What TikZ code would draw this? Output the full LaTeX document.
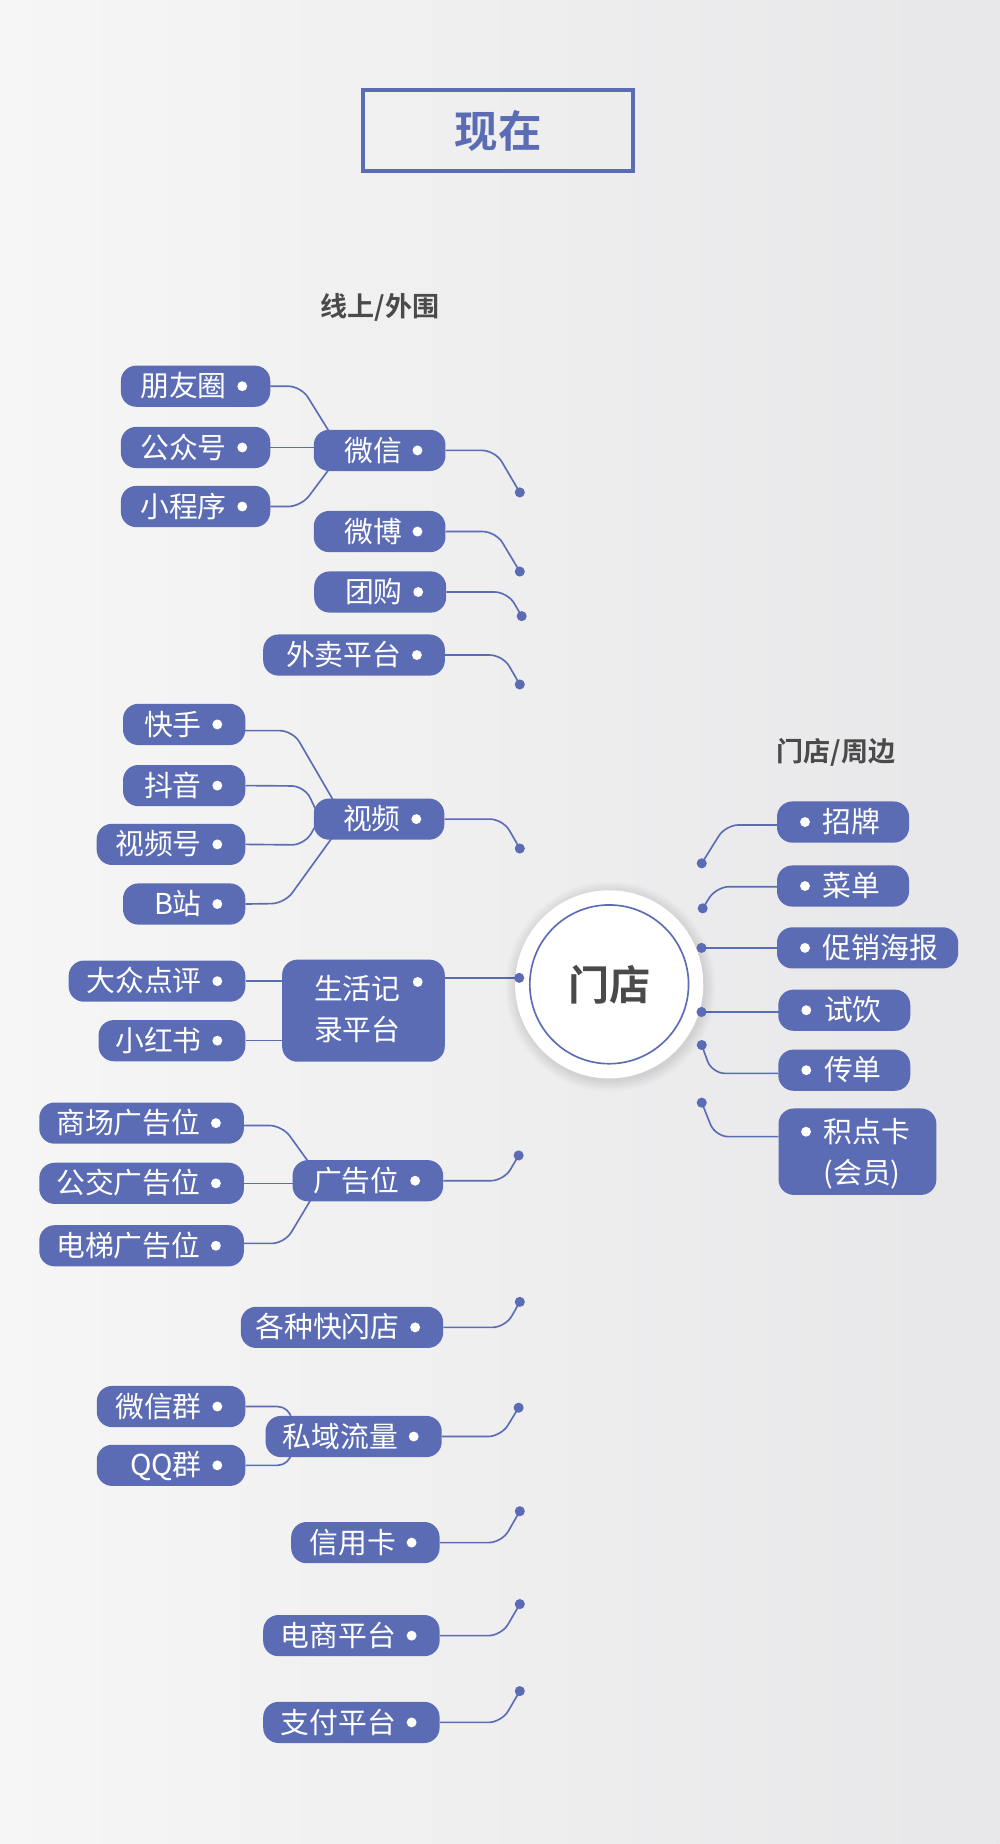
\documentclass[tikz,border=0pt]{standalone}
\usepackage{fontspec}
\setmainfont{Noto Sans CJK SC}[BoldFont={Noto Sans CJK SC Bold}]
\usetikzlibrary{calc}
\setlength{\parindent}{0pt}
\definecolor{nb}{RGB}{91,108,181}
\definecolor{dg}{RGB}{74,74,74}
\definecolor{bgl}{RGB}{246,246,246}
\definecolor{bgr}{RGB}{231,231,233}
\pgfdeclarelayer{bg}
\pgfsetlayers{bg,main}
\newcommand\myfs[2]{\fontsize{#1pt}{#2pt}\selectfont}
\tikzset{
  box/.style={fill=nb, text=white, rounded corners=13pt, minimum height=35pt,
    inner xsep=0pt, inner ysep=0pt, text height=20pt, text depth=2pt, font=\myfs{24.5}{28}},
  lbox/.style={box, align=right, anchor=east},
  rbox/.style={box, align=left, anchor=west},
  btxt/.style={text=white, font=\myfs{24.5}{28}, inner sep=0pt, text height=20pt, text depth=2pt},
  conn/.style={draw=nb, line width=1.4pt, rounded corners=11pt},
  lbl/.style={text=dg, font=\bfseries\myfs{23}{23}, inner sep=0pt},
}
\newcommand\LB[5]{\node[lbox, text width=#4pt] (#1) at (#2,#3) {#5\hspace*{37pt}};
  \fill[white] ($(#1.east)+(-24,0)$) circle (4.2pt);}
\newcommand\RB[5]{\node[rbox, text width=#4pt] (#1) at (#2,#3) {\hspace*{39pt}#5};
  \fill[white] ($(#1.west)+(24,0)$) circle (4.2pt);}
\begin{document}
\begin{tikzpicture}[x=1pt,y=-1pt]
\useasboundingbox (0,0) rectangle (850,1568);
\begin{pgfonlayer}{bg}
  \shade[left color=bgl, right color=bgr] (0,0) rectangle (850,1568);
\end{pgfonlayer}

% title
\node[draw=nb, line width=3.5pt, minimum width=229.5pt, minimum height=68.5pt,
  text=nb, font=\bfseries\myfs{37}{37}] (title) at (423.5,111) {现在};
\node[lbl] (lab1) at (323,261) {线上/外围};
\node[lbl] (lab2) at (711,640) {门店/周边};

% centre
\foreach \i in {1,...,9} {\fill[black, opacity=0.011] (519,839) circle ({79.5pt+\i*1.1pt});}
\node[circle, fill=white, minimum size=160pt, inner sep=0pt] (md) at (518,837) {};
\draw[nb, line width=1.4pt] (md.center) circle (67.5pt);
\node[text=dg, font=\bfseries\myfs{35}{35}, inner sep=0pt] (mdt) at (md.center) {门店};

% level 2 (left)
\LB{wx}{379}{383}{112}{微信}
\LB{wb}{379}{452}{112}{微博}
\LB{tg}{379.6}{503.4}{112.2}{团购}
\LB{wm}{378.5}{557}{154.5}{外卖平台}
\LB{sp}{378}{696.5}{111}{视频}
\LB{ggw}{377}{1004}{128}{广告位}
\LB{kfd}{377}{1128.7}{172}{各种快闪店}
\LB{sy}{375.8}{1221.5}{149.8}{私域流量}
\LB{xyk}{374}{1311.7}{126.2}{信用卡}
\LB{ds}{374}{1390.8}{150}{电商平台}
\LB{zf}{374}{1464.6}{150}{支付平台}
\node[box, minimum width=138.3pt, minimum height=86.8pt, anchor=west] (shjl) at (239.7,859.4) {};
\node[btxt, anchor=west] (shjl1) at (266.8,841) {生活记};
\node[btxt, anchor=west] (shjl2) at (266.8,876) {录平台};
\fill[white] (355.2,835) circle (4.2pt);

% leaves (left)
\LB{pyq}{230}{328.4}{127}{朋友圈}
\LB{gzh}{230}{380.5}{127}{公众号}
\LB{xcx}{230}{430.7}{127}{小程序}
\LB{ks}{208.8}{616}{104}{快手}
\LB{dy}{208.8}{668}{104}{抖音}
\LB{sph}{208.8}{718}{126.4}{视频号}
\LB{bz}{208.8}{768.7}{104}{B站}
\LB{dz}{208.8}{834.3}{150.2}{大众点评}
\LB{xhs}{208.8}{884.9}{124.8}{小红书}
\LB{sc}{207.6}{955}{174}{商场广告位}
\LB{gj}{207.6}{1006.2}{174}{公交广告位}
\LB{dt}{207.6}{1059.3}{174}{电梯广告位}
\LB{wxq}{208.8}{1196}{126.3}{微信群}
\LB{qq}{208.8}{1246}{126.3}{QQ群}

% right
\RB{zp}{660.5}{699}{112.3}{招牌}
\RB{cd}{660.5}{753.4}{112.3}{菜单}
\RB{cx}{660.5}{806}{154}{促销海报}
\RB{sy2}{661.6}{859}{112.2}{试饮}
\RB{cdan}{661.6}{910}{112.2}{传单}
\node[box, minimum width=134.2pt, minimum height=73.5pt, anchor=west] (jdk) at (661.8,979.3) {};
\node[btxt, anchor=west] (jdk1) at (700,962.3) {积点卡};
\node[btxt, anchor=west] (jdk2) at (700,997.7) {(会员)};
\fill[white] (685.4,962.3) circle (4.2pt);

% end dots
\coordinate (dwx) at (442,418.7);
\coordinate (dwb) at (442,486);
\coordinate (dtg) at (443.6,523.9);
\coordinate (dwm) at (442,582);
\coordinate (dsp) at (442,721.5);
\coordinate (dsh) at (441.5,831.5);
\coordinate (dgg) at (441,982.5);
\coordinate (dkf) at (442,1107);
\coordinate (dsy) at (441,1197);
\coordinate (dxy) at (442,1285);
\coordinate (dds) at (442,1364);
\coordinate (dzf) at (442,1438);
\coordinate (dzp) at (596.7,734.1);
\coordinate (dcd) at (597.5,772.4);
\coordinate (dcx) at (596.5,806);
\coordinate (dsy2) at (596.5,860.5);
\coordinate (dcdan) at (596.7,888.6);
\coordinate (djdk) at (596.7,937.6);
\foreach \d in {dwx,dwb,dtg,dwm,dsp,dsh,dgg,dkf,dsy,dxy,dds,dzf,dzp,dcd,dcx,dsy2,dcdan,djdk}
  {\fill[nb] (\d) circle (4.3pt);}

\begin{pgfonlayer}{bg}
  % level 2 to dots
  \draw[conn] (wx.east) -- ++(42,0) -- (dwx);
  \draw[conn] (wb.east) -- ++(42.6,0) -- (dwb);
  \draw[conn] (tg.east) -- ++(52,0) -- (dtg);
  \draw[conn] (wm.east) -- ++(49,0) -- (dwm);
  \draw[conn] (sp.east) -- ++(49.6,0) -- (dsp);
  \draw[conn] (dsh -| shjl.center) -- (dsh);
  \draw[conn] (ggw.east) -- ++(51.4,0) -- (dgg);
  \draw[conn] (kfd.east) -- ++(52.7,0) -- (dkf);
  \draw[conn] (sy.east) -- ++(50.2,0) -- (dsy);
  \draw[conn] (xyk.east) -- ++(52.7,0) -- (dxy);
  \draw[conn] (ds.east) -- ++(52.4,0) -- (dds);
  \draw[conn] (zf.east) -- ++(52.4,0) -- (dzf);
  % right
  \draw[conn] ($(zp.west)+(0,2.5)$) -- (617,701.5) -- (dzp);
  \draw[conn] ($(cd.west)+(0,0.6)$) -- (609,754) -- (dcd);
  \draw[conn] (cx.west) -- (dcx);
  \draw[conn] (dsy2 -| sy2.center) -- (dsy2);
  \draw[conn] ($(cdan.west)+(0,2.7)$) -- (605.4,912.7) -- (dcdan);
  \draw[conn] ($(jdk.west)+(0,-12.8)$) -- (608.3,966.5) -- (djdk);
  % leaves
  \draw[conn] (pyq.east) -- ++(26,0) -- ($(wx.west)+(17,-10)$);
  \draw[conn] (gzh.east) -- (gzh.east -| wx.center);
  \draw[conn] (xcx.east) -- ++(26,0) -- ($(wx.west)+(18.5,9)$);
  \draw[conn] ($(ks.east)+(-2,5.3)$) -- (249,621.3) -- ($(sp.west)+(20,-10.5)$);
  \draw[conn] (dy.east) -- (259,668.4) -- ($(sp.west)+(5,-1.5)$);
  \draw[conn] (sph.east) -- (259,718.5) -- ($(sp.west)+(3,3.5)$);
  \draw[conn] (bz.east) -- (242,768.2) -- ($(sp.west)+(20,10)$);
  \draw[conn] (dz.east) -- (dz.east -| shjl.center);
  \draw[conn] (xhs.east) -- (xhs.east -| shjl.center);
  \draw[conn] ($(sc.east)+(0,2)$) -- (240,957) -- ($(ggw.west)+(18,-10)$);
  \draw[conn] (gj.east) -- (gj.east -| ggw.center);
  \draw[conn] ($(dt.east)+(0,-2)$) -- (242,1057.3) -- ($(ggw.west)+(20,9)$);
  \draw[conn] (wxq.east) -- (247,1196) -- ($(sy.west)+(23,-6.5)$);
  \draw[conn] (qq.east) -- (247,1246) -- ($(sy.west)+(23,4.5)$);
\end{pgfonlayer}
\end{tikzpicture}
\end{document}
